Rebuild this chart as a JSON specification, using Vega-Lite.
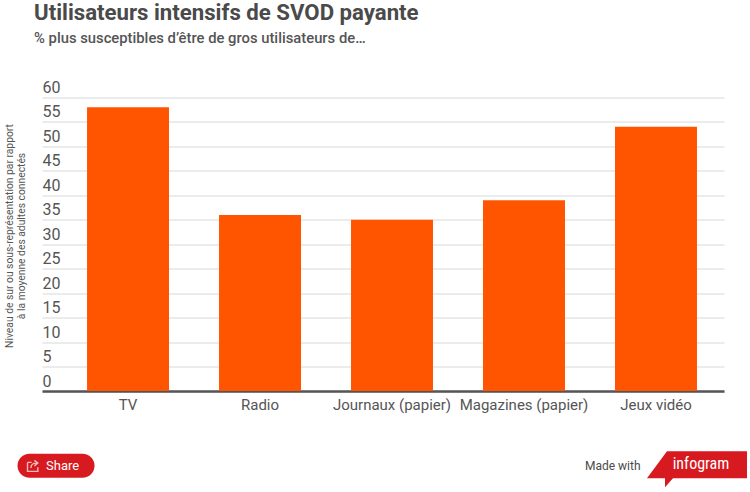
{"$schema":"https://vega.github.io/schema/vega-lite/v6.json","width":682,"height":293.5,"autosize":{"type":"none"},"padding":{"left":42,"top":97.5,"right":26,"bottom":101},"background":"white","title":{"text":"Utilisateurs intensifs de SVOD payante","subtitle":"% plus susceptibles d’être de gros utilisateurs de…","anchor":"start","frame":"group","dx":-8,"offset":33.5,"font":"Roboto","fontSize":22.2,"fontWeight":700,"color":"#4a4a4a","subtitleFont":"Roboto","subtitleFontSize":14.8,"subtitleFontWeight":500,"subtitleColor":"#555555","subtitlePadding":7},"config":{"view":{"stroke":null},"font":"Roboto"},"data":{"values":[{"media":"TV","pct":58},{"media":"Radio","pct":36},{"media":"Journaux (papier)","pct":35},{"media":"Magazines (papier)","pct":39},{"media":"Jeux vidéo","pct":54}]},"layer":[{"mark":{"type":"bar","color":"#ff5500"},"encoding":{"x":{"field":"media","type":"nominal","sort":null,"scale":{"paddingInner":0.379,"paddingOuter":0.273,"align":0.625},"axis":{"title":null,"labelAngle":0,"labelFont":"Roboto","labelFontSize":15,"labelColor":"#555555","labelPadding":6,"ticks":false,"domain":true,"domainColor":"#555555","domainWidth":2.5,"labelLimit":200,"grid":false}},"y":{"field":"pct","type":"quantitative","scale":{"domain":[0,60],"nice":false},"axis":{"values":[0,5,10,15,20,25,30,35,40,45,50,55,60],"tickCount":13,"labelOverlap":false,"title":["Niveau de sur ou sous-représentation par rapport","à la moyenne des adultes connectés"],"titleFont":"Roboto","titleFontSize":10.3,"titleFontWeight":400,"titleColor":"#555555","titleLineHeight":12.5,"titleX":-28,"titleY":138,"titleAnchor":"middle","titleAngle":-90,"labelAlign":"left","labelBaseline":"alphabetic","labelOffset":-5,"labelPadding":0,"labelFont":"Roboto","labelFontSize":16,"labelColor":"#555555","ticks":false,"domain":false,"grid":true,"gridColor":"#d8d8d8","gridWidth":1}}}},{"data":{"values":[{"media":"TV"}]},"mark":{"type":"rect","color":"#d71920","width":77,"height":24,"cornerRadius":12,"xOffset":-72},"encoding":{"x":{"field":"media","type":"nominal","sort":null},"y":{"datum":-15.3}}},{"data":{"values":[{"media":"TV"}]},"mark":{"type":"point","shape":"M-0.8,-0.5L-0.2,-0.5M-0.8,-0.5L-0.8,0.8L0.7,0.8L0.7,0.2M-0.3,0.3C-0.3,-0.3 0.1,-0.4 0.5,-0.4M0.2,-0.8L0.7,-0.4L0.2,0","size":190,"filled":false,"stroke":"white","strokeWidth":1.4,"xOffset":-95},"encoding":{"x":{"field":"media","type":"nominal","sort":null},"y":{"datum":-15.3}}},{"data":{"values":[{"media":"TV","label":"Share"}]},"mark":{"type":"text","color":"white","font":"Roboto","fontSize":13,"align":"left","dx":-82},"encoding":{"x":{"field":"media","type":"nominal","sort":null},"y":{"datum":-15.4},"text":{"field":"label"}}},{"data":{"values":[{"media":"Jeux vidéo","label":"Made with"}]},"mark":{"type":"text","color":"#4a4a4a","font":"Roboto","fontSize":12,"align":"left","dx":-71},"encoding":{"x":{"field":"media","type":"nominal","sort":null},"y":{"datum":-15.4},"text":{"field":"label"}}},{"data":{"values":[{"media":"Jeux vidéo"}]},"mark":{"type":"point","shape":"M-0.3,-0.17L0.5,-0.17L0.5,0.1L-0.24,0.1L-0.32,0.19L-0.32,0.1L-0.5,0.1Z","size":40000,"filled":true,"fill":"#d71920","opacity":1,"strokeWidth":0,"xOffset":41},"encoding":{"x":{"field":"media","type":"nominal","sort":null},"y":{"datum":-15.8}}},{"data":{"values":[{"media":"Jeux vidéo","label":"infogram"}]},"mark":{"type":"text","color":"white","font":"Roboto Condensed","fontSize":16,"align":"center","dx":45},"encoding":{"x":{"field":"media","type":"nominal","sort":null},"y":{"datum":-15},"text":{"field":"label"}}}]}
